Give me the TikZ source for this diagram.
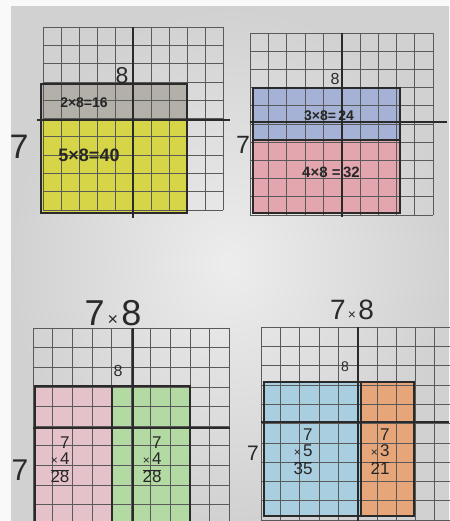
\documentclass[tikz,border=0pt]{standalone}
\usepackage{fontspec}
\setmainfont{Liberation Sans}
\usepackage{array}
\definecolor{paperhi}{HTML}{EDEDED}
\definecolor{paperlo}{HTML}{D2D1D1}
\definecolor{gridc}{HTML}{5A5A5A}
\definecolor{inkc}{HTML}{2A2A2A}
\definecolor{fgray}{HTML}{B3AFA9}
\definecolor{fyellow}{HTML}{D6D447}
\definecolor{fblue}{HTML}{A6B2D5}
\definecolor{fpink}{HTML}{E3A6AE}
\definecolor{fpinklt}{HTML}{E5C2CA}
\definecolor{fgreen}{HTML}{B3DAA3}
\definecolor{fltblue}{HTML}{A8CEDF}
\definecolor{forange}{HTML}{E6A679}
\newcommand\gridbox[6]{%
  \foreach \i in {0,...,#5} \draw[gridl] ({#1+\i*#3},#2) -- ({#1+\i*#3},{#2+#6*#4});
  \foreach \j in {0,...,#6} \draw[gridl] (#1,{#2+\j*#4}) -- ({#1+#5*#3},{#2+\j*#4});
}
\newcommand\fs[1]{\fontsize{#1}{#1}\selectfont}
\newcommand\stk[3]{\setlength\arrayrulewidth{1.1pt}\renewcommand\arraystretch{0.95}\begin{tabular}{@{}r@{}}#1\\{\fs{12}×\,}#2\\\hline #3\end{tabular}}
\begin{document}
\begin{tikzpicture}[x=1pt,y=-1pt,
  gridl/.style={draw=gridc,line width=0.6pt},
  thick line/.style={draw=inkc,line width=1.7pt},
  lab/.style={inner sep=0pt,text=inkc},
  eq/.style={inner sep=0pt,text=black!85,font=\bfseries},
  stack/.style={inner sep=0pt,text=black!85,font=\fs{17}}]
\useasboundingbox (0,0) rectangle (449,521);
\fill[white!95!gray] (0,0) rectangle (449,521);
\shade[inner color=paperhi,outer color=paperlo] (11,7) rectangle (449,521);

% ---------- top left ----------
\fill[fgray] (41,84) rectangle (187,120);
\fill[fyellow] (41,120) rectangle (187,213);
\gridbox{43}{27}{18}{18.3}{10}{10}
\draw[thick line] (41,84) rectangle (187,213);
\draw[thick line] (133,27) -- (133,218);
\draw[thick line] (37,120) -- (230,120);

% ---------- top right ----------
\fill[fblue] (253,88) rectangle (400,140);
\fill[fpink] (253,140) rectangle (400,213);
\gridbox{250}{33}{18.3}{18.2}{10}{10}
\draw[thick line] (253,88) rectangle (400,213);
\draw[thick line] (253,140) -- (400,140);
\draw[thick line] (342,33) -- (342,217);
\draw[thick line] (250,122) -- (447,122);

% ---------- bottom left ----------
\fill[fpinklt] (35,386) rectangle (112,525);
\fill[fgreen] (112,386) rectangle (190,525);
\gridbox{33}{328}{19.6}{19.6}{10}{10}
\draw[thick line] (35,525) -- (35,386) -- (190,386) -- (190,525);
\draw[thick line] (112,386) -- (112,525);
\draw[thick line] (133,328) -- (133,525);
\draw[thick line] (33,428) -- (230,428);

% ---------- bottom right ----------
\fill[fltblue] (264,382) rectangle (361,516);
\fill[forange] (361,382) rectangle (414,516);
\gridbox{261}{327}{19.3}{19.3}{10}{10}
\draw[thick line] (264,382) rectangle (414,516);
\draw[thick line] (361,382) -- (361,516);
\draw[thick line] (358,327) -- (358,525);
\draw[thick line] (261,422) -- (449,422);

% ---------- labels ----------
\node[lab,font=\fs{23}] (tl8) at (122,76) {8};
\node[lab,font=\fs{34}] (tl7) at (19,147) {7};
\node[eq,font=\bfseries\fs{14}] (tleqa) at (84,103) {2×8=16};
\node[eq,font=\bfseries\fs{18}] (tleqb) at (89,155) {5×8=40};

\node[lab,font=\fs{16}] (tr8) at (335,79) {8};
\node[lab,font=\fs{25}] (tr7) at (243,145) {7};
\node[eq,font=\bfseries\fs{14}] (treqa) at (329,116) {3×8=\,24};
\node[eq,font=\bfseries\fs{15}] (treqb) at (331,172) {4×8 =\,32};

\node[lab,font=\fs{36}] (bltitle) at (113,313) {7{\fs{18}\,×\,}8};
\node[lab,font=\fs{16}] (bl8) at (118,371) {8};
\node[lab,font=\fs{30}] (bl7) at (20,470) {7};
\node[stack] (blpink) at (60,462) {\stk{7}{4}{28}};
\node[stack] (blgreen) at (152,462) {\stk{7}{4}{28}};

\node[lab,font=\fs{28}] (brtitle) at (352,310) {7{\fs{14}\,×\,}8};
\node[lab,font=\fs{14}] (br8) at (345,367) {8};
\node[lab,font=\fs{21}] (br7) at (253,453) {7};
\node[stack] (brblue) at (303,454) {\stk{7}{5}{35}};
\node[stack] (brorange) at (380,454) {\stk{7}{3}{21}};
\end{tikzpicture}
\end{document}
